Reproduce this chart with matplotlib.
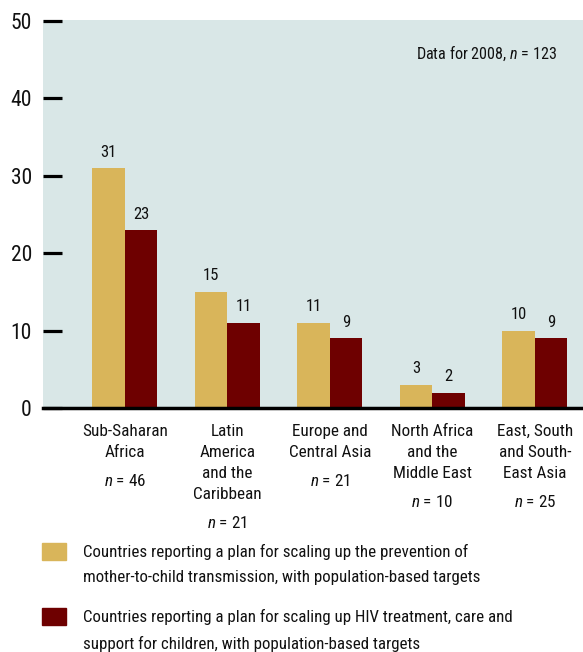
import matplotlib
matplotlib.use("Agg")
import matplotlib.pyplot as plt
from matplotlib.patches import Rectangle
from matplotlib import font_manager as fm
import numpy as np

# pick a condensed face if one is installed
FONT, STRETCH = "Liberation Sans", "normal"
cands = []
for f in fm.fontManager.ttflist:
    st = str(f.stretch)
    if f.style == "normal" and f.weight in (400, "normal", "regular") and (
            "condensed" in st or "narrow" in f.name.lower() or "condensed" in f.name.lower()):
        cands.append((f.name, st))
pref = ["Roboto Condensed", "Open Sans Condensed", "Liberation Sans Narrow", "Noto Sans", "Open Sans", "Roboto", "DejaVu Sans"]
for p in pref:
    hit = [c for c in cands if c[0] == p]
    if hit:
        FONT, STRETCH = hit[0]
        break
else:
    if cands:
        FONT, STRETCH = cands[0]

plt.rcParams["font.family"] = [FONT, "DejaVu Sans"]
plt.rcParams["font.stretch"] = STRETCH
plt.rcParams["mathtext.fontset"] = "custom"
plt.rcParams["mathtext.it"] = FONT + ":italic"
plt.rcParams["mathtext.rm"] = FONT

regions = ["Sub-Saharan\nAfrica", "Latin\nAmerica\nand the\nCaribbean", "Europe and\nCentral Asia",
           "North Africa\nand the\nMiddle East", "East, South\nand South-\nEast Asia"]
region_n = [46, 21, 21, 10, 25]
pmtct = [31, 15, 11, 3, 10]
treatment = [23, 11, 9, 2, 9]
yticks = [0, 10, 20, 30, 40, 50]
legend_labels = ["Countries reporting a plan for scaling up the prevention of\nmother-to-child transmission, with population-based targets",
                 "Countries reporting a plan for scaling up HIV treatment, care and\nsupport for children, with population-based targets"]
note = "Data for 2008, $n$ = 123"

GOLD = "#d9b55a"
RED = "#6e0000"
BG = "#d9e7e7"
TXT = "#111111"

fig = plt.figure(figsize=(5.83, 6.52), dpi=100)
ax = fig.add_axes([43/583, 1-408/652, 1-43/583, (408-20)/652])
ax.set_facecolor(BG)

x = np.arange(len(regions))
w = 0.317
b1 = ax.bar(x - w/2, pmtct, w, color=GOLD, zorder=2)
b2 = ax.bar(x + w/2, treatment, w, color=RED, zorder=2)
for bars, vals in ((b1, pmtct), (b2, treatment)):
    for r, v in zip(bars, vals):
        ax.annotate(str(v), (r.get_x() + r.get_width()/2, v), xytext=(0, 6),
                    textcoords="offset points", ha="center", va="bottom",
                    fontsize=12, color=TXT)

ax.set_xlim(-0.8, 4.47)
ax.set_ylim(0, 50.1)
ax.set_yticks(yticks)
ax.set_yticklabels([str(t) for t in yticks], fontsize=15.5, color=TXT)
ax.tick_params(axis="y", direction="in", length=14, width=2.3, pad=8, color="black")
ax.set_xticks([])
for s in ("top", "right", "left"):
    ax.spines[s].set_visible(False)
ax.spines["bottom"].set_linewidth(2.5)
ax.spines["bottom"].set_zorder(3)

line_pt = 15.1
for xi, name, n in zip(x, regions, region_n):
    nl = name.count("\n") + 1
    ax.annotate(name, (xi, 0), xytext=(0, -11.3), textcoords="offset points",
                ha="center", va="top", fontsize=12.3, color=TXT, linespacing=1.52,
                annotation_clip=False)
    ax.annotate(f"$n$ = {n}", (xi, 0), xytext=(0, -10 - nl*line_pt - 6.5),
                textcoords="offset points", ha="center", va="top", fontsize=12.3,
                color=TXT, annotation_clip=False)

ax.text(0.952, 0.915, note, transform=ax.transAxes, ha="right", va="center",
        fontsize=11.6, color=TXT)

W, H = 583, 652
for i, (lab, col) in enumerate(zip(legend_labels, [GOLD, RED])):
    top = 543 + i*65
    fig.add_artist(Rectangle((42/W, 1-(top+17)/H), 24/W, 17/H, color=col,
                             transform=fig.transFigure))
    fig.text(83/W, 1-(top+1)/H, lab, ha="left", va="top", fontsize=12.2,
             color=TXT, linespacing=1.85)

fig.savefig("out.png", dpi=100)
